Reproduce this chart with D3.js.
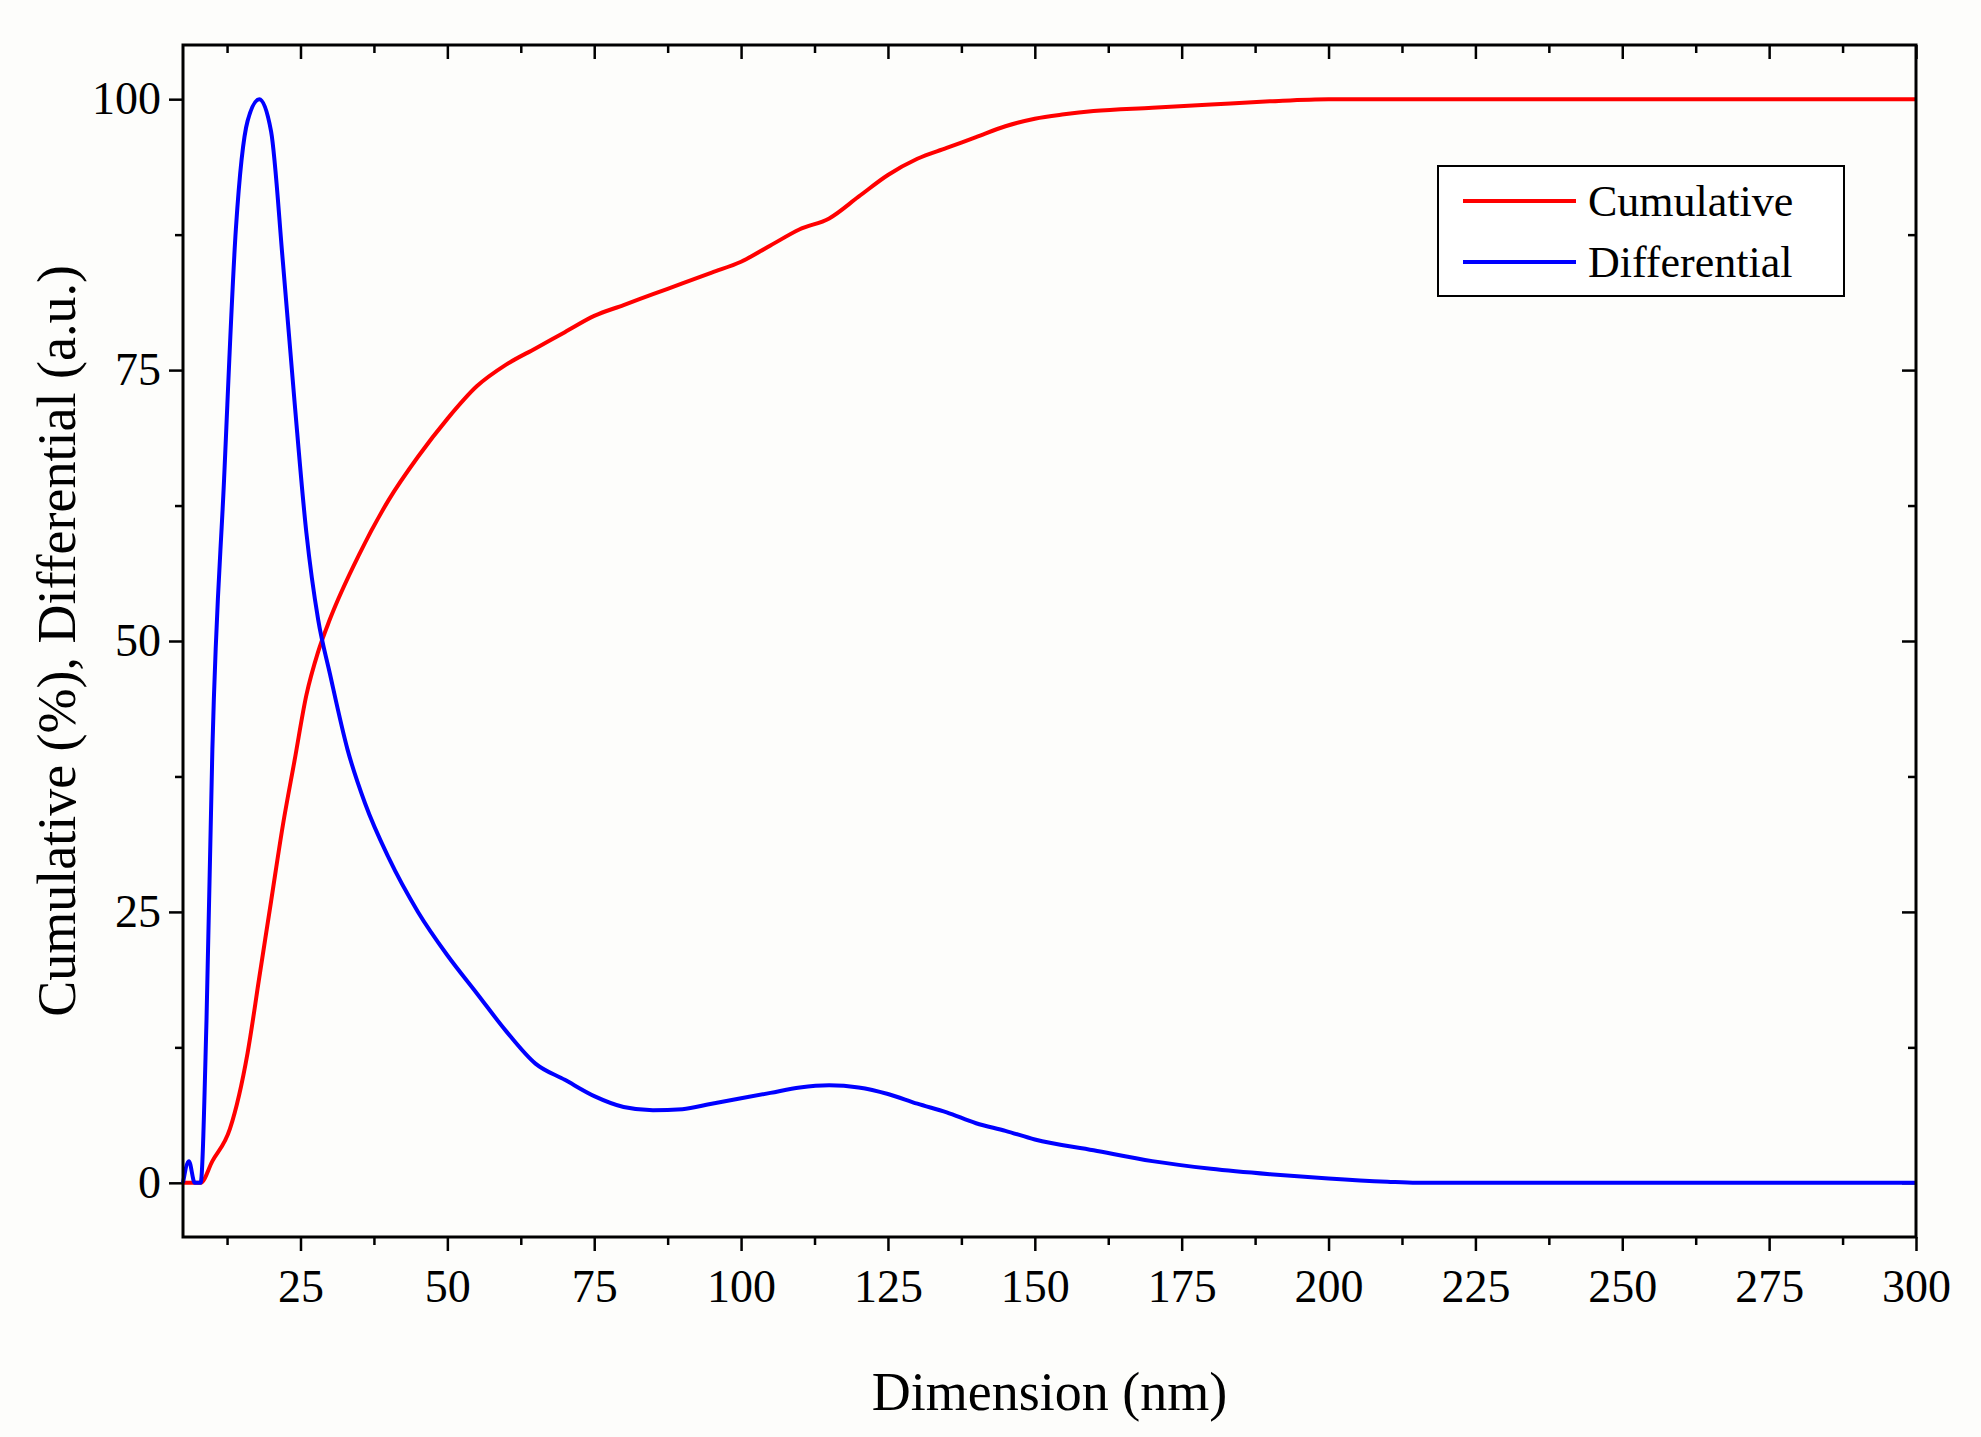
<!DOCTYPE html>
<html><head><meta charset="utf-8">
<script src="https://cdn.jsdelivr.net/npm/d3@7"></script>
<style>body{margin:0;background:#fdfdfb}text{font-family:"Liberation Serif","Times New Roman",serif}</style>
</head><body><svg id="svg1" width="1981" height="1437"></svg>
<script>
var cumX = [5,8,10,13,16,18,20,22,24,26,28,30,35,40,45,50,55,60,65,70,75,80,85,90,95,100,105,110,115,120,125,130,135,140,145,150,155,160,170,180,190,200,300];
var cumY = [0,0,2,5,12,19,26,33,39,45,49,52,58,63,67,70.5,73.5,75.5,77,78.5,80,81,82,83,84,85,86.5,88,89,91,93,94.5,95.5,96.5,97.5,98.2,98.6,98.9,99.2,99.5,99.8,100,100];
var difX = [5,6,7,8,9,10,12,14,16,18,20,22,24,26,28,30,33,36,40,45,50,55,60,65,70,75,80,85,90,95,100,105,110,115,120,125,130,135,140,145,150,160,170,180,190,200,210,215,300];
var difY = [0,2,0,0,15,40,65,88,98,100,97,85,72,60,52,47,40,35,30,25,21,17.5,14,11,9.5,8,7,6.7,6.8,7.3,7.8,8.3,8.8,9,8.8,8.2,7.3,6.5,5.5,4.8,4,3,2,1.3,0.8,0.4,0.1,0,0];
var xTicks = [25,50,75,100,125,150,175,200,225,250,275,300];
var yTicks = [0,25,50,75,100];
var seriesNames = ['Cumulative','Differential'];
var seriesColors = ['#ff0000','#0000ff'];

var L = 183, R = 1916, T = 45, B = 1237;
var svg = d3.select('#svg1');
var x = d3.scaleLinear().domain([5,300]).range([L,R]);
var y = d3.scaleLinear().domain([-5,105]).range([B,T]);

var minorX = d3.range(12.5,300,25);
var minorY = d3.range(-12.5,105,12.5).filter(function(d){return d%25!==0 && d>-5;});
var tickLen = 14, minorLen = 8;

var axis = function(g, scale, vals, len, fmt, orient, pad) {
  var a = orient(scale).tickValues(vals).tickSize(len).tickSizeOuter(0).tickPadding(pad || 6);
  if (fmt) a.tickFormat(fmt); else a.tickFormat('');
  g.call(a);
  g.select('.domain').remove();
  g.selectAll('line').attr('stroke','#000').attr('stroke-width',2.5);
  g.attr('font-size',46).attr('font-family','"Liberation Serif",serif');
  g.selectAll('text').attr('fill','#000');
}
axis(svg.append('g').attr('transform','translate(0,'+B+')'), x, xTicks, tickLen, d3.format('d'), d3.axisBottom, 18);
axis(svg.append('g').attr('transform','translate(0,'+B+')'), x, minorX, minorLen, null, d3.axisBottom);
axis(svg.append('g').attr('transform','translate(0,'+T+')'), x, xTicks, -tickLen, null, d3.axisTop);
axis(svg.append('g').attr('transform','translate(0,'+T+')'), x, minorX, -minorLen, null, d3.axisTop);
axis(svg.append('g').attr('transform','translate('+L+',0)'), y, yTicks, tickLen, d3.format('d'), d3.axisLeft, 8);
axis(svg.append('g').attr('transform','translate('+L+',0)'), y, minorY, minorLen, null, d3.axisLeft);
axis(svg.append('g').attr('transform','translate('+R+',0)'), y, yTicks, -tickLen, null, d3.axisRight);
axis(svg.append('g').attr('transform','translate('+R+',0)'), y, minorY, -minorLen, null, d3.axisRight);

var line = d3.line().curve(d3.curveMonotoneX).x(function(d){return x(d[0]);}).y(function(d){return y(d[1]);});
var series = [d3.zip(cumX,cumY), d3.zip(difX,difY)];
svg.append('g').selectAll('path').data(series).enter().append('path')
  .attr('d', line).attr('fill','none').attr('stroke-width',4)
  .attr('stroke', function(d,i){return seriesColors[i];});

svg.append('rect').attr('x',L).attr('y',T).attr('width',R-L).attr('height',B-T)
  .attr('fill','none').attr('stroke','#000').attr('stroke-width',3);

svg.append('text').attr('x',(L+R)/2).attr('y',1410).attr('text-anchor','middle').attr('font-size',54).text('Dimension (nm)');
svg.append('text').attr('transform','translate(75,'+((T+B)/2)+') rotate(-90)').attr('text-anchor','middle').attr('font-size',54)
  .text('Cumulative (%), Differential (a.u.)');

var lg = svg.append('g').attr('transform','translate(1438,166)');
lg.append('rect').attr('width',406).attr('height',130).attr('fill','#fff').attr('stroke','#000').attr('stroke-width',2);
var item = lg.selectAll('g').data(seriesNames).enter().append('g')
  .attr('transform', function(d,i){return 'translate(0,'+(35+i*61)+')';});
item.append('line').attr('x1',25).attr('x2',138).attr('stroke-width',4).attr('stroke',function(d,i){return seriesColors[i];});
item.append('text').attr('x',150).attr('dy','0.35em').attr('font-size',44).text(String);
</script></body></html>
